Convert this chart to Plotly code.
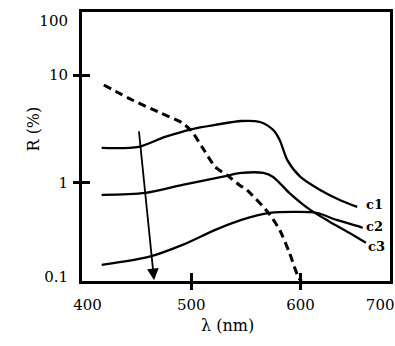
import math
import plotly.graph_objects as go

# ---- data ----
c1_x = [418, 452, 476, 501, 522, 546, 563, 575, 581, 588, 600, 618, 636, 652]
c1_y = [2.10, 2.15, 2.66, 3.15, 3.44, 3.74, 3.66, 3.09, 2.49, 1.62, 1.13, 0.855, 0.690, 0.595]

c2_x = [418, 458, 492, 528, 546, 566, 575, 590, 609, 627, 645, 660]
c2_y = [0.769, 0.802, 0.952, 1.13, 1.23, 1.23, 1.13, 0.80, 0.558, 0.432, 0.341, 0.276]

c3_x = [418, 461, 492, 522, 546, 572, 597, 615, 633, 652, 657]
c3_y = [0.172, 0.204, 0.264, 0.364, 0.451, 0.523, 0.535, 0.523, 0.451, 0.396, 0.380]

dash_x = [420, 446, 470, 492, 501, 510, 522, 535, 544, 551, 570, 581, 590, 598, 601]
dash_y = [8.07, 5.86, 4.53, 3.58, 2.96, 2.14, 1.40, 1.13, 0.952, 0.855, 0.535, 0.364, 0.222, 0.133, 0.122]

x_tickvals = [405, 500, 600, 673]
x_ticktext = ["400", "500", "600", "700"]
y_tickvals = [0.135, 1, 10, 32]
y_ticktext = ["0.1", "1", "10", "100"]
x_marks = [500, 600]
y_marks = [1, 10]

curve_labels = ["c1", "c2", "c3"]
label_x = [668, 668, 670]
label_y = [0.621, 0.388, 0.253]

arrow_x = [452, 466]
arrow_y = [3.09, 0.124]

x_range = [400, 682]
y_range = [math.log10(0.122), math.log10(38.5)]

FONT = "DejaVu Serif"

fig = go.Figure()
for xs, ys in [(c1_x, c1_y), (c2_x, c2_y), (c3_x, c3_y)]:
    fig.add_trace(go.Scatter(x=xs, y=ys, mode="lines",
                             line=dict(color="black", width=2.3, shape="spline", smoothing=0.8),
                             showlegend=False, hoverinfo="skip"))
fig.add_trace(go.Scatter(x=dash_x, y=dash_y, mode="lines",
                         line=dict(color="black", width=3, dash="8px,5px", shape="spline", smoothing=0.6),
                         showlegend=False, hoverinfo="skip"))
# dummy traces to anchor tick-mark axes
fig.add_trace(go.Scatter(x=[None], y=[None], xaxis="x2", yaxis="y2", showlegend=False))
fig.add_trace(go.Scatter(x=[None], y=[None], xaxis="x3", yaxis="y3", showlegend=False))

for lab, lx, ly in zip(curve_labels, label_x, label_y):
    fig.add_annotation(x=lx, y=math.log10(ly), xref="x", yref="y", text="<b>%s</b>" % lab,
                       showarrow=False, font=dict(family=FONT, size=13, color="black"))

fig.add_annotation(x=arrow_x[1], y=math.log10(arrow_y[1]), ax=arrow_x[0], ay=math.log10(arrow_y[0]),
                   xref="x", yref="y", axref="x", ayref="y", text="", showarrow=True,
                   arrowhead=2, arrowsize=1.3, arrowwidth=1.8, arrowcolor="black")

fig.add_annotation(x=21, y=129, xref="paper", yref="paper", text="R (%)", textangle=-90,
                   showarrow=False, font=dict(family=FONT, size=16, color="black"))
fig.add_annotation(x=227, y=337, xref="paper", yref="paper", text="λ (nm)",
                   showarrow=False, font=dict(family=FONT, size=16, color="black"))

# convert paper annotations from pixel positions
W, H = 395, 346
L, R, T, B = 82, 5, 12, 65
pw, ph = W - L - R, H - T - B
for a in fig.layout.annotations:
    if a.xref == "paper":
        a.x = (a.x - L) / pw
        a.y = 1 - (a.y - T) / ph

common_x = dict(range=x_range, showgrid=False, zeroline=False)
common_y = dict(type="log", range=y_range, showgrid=False, zeroline=False)

fig.update_layout(
    width=W, height=H,
    margin=dict(l=L, r=R, t=T, b=B, autoexpand=False),
    paper_bgcolor="white", plot_bgcolor="white",
    font=dict(family=FONT, size=15, color="black"),
    xaxis=dict(**common_x, tickvals=x_tickvals, ticktext=x_ticktext, ticks="outside",
               ticklen=8, tickcolor="rgba(0,0,0,0)", showline=True, linewidth=3,
               linecolor="black", mirror=True, ticklabeloverflow="allow"),
    yaxis=dict(**common_y, tickvals=y_tickvals, ticktext=y_ticktext, ticks="outside",
               ticklen=8, tickcolor="rgba(0,0,0,0)", showline=True, linewidth=3,
               linecolor="black", mirror=True, ticklabeloverflow="allow"),
    xaxis2=dict(**common_x, overlaying="x", tickvals=x_marks, ticks="outside", ticklen=8,
                tickwidth=3, tickcolor="black", showticklabels=False, showline=False),
    yaxis2=dict(**common_y, overlaying="y", tickvals=y_marks, ticks="outside", ticklen=8,
                tickwidth=3, tickcolor="black", showticklabels=False, showline=False),
    xaxis3=dict(**common_x, overlaying="x", tickvals=x_marks, ticks="inside", ticklen=8,
                tickwidth=3, tickcolor="black", showticklabels=False, showline=False),
    yaxis3=dict(**common_y, overlaying="y", tickvals=y_marks, ticks="inside", ticklen=8,
                tickwidth=3, tickcolor="black", showticklabels=False, showline=False),
)

fig.write_html("out.html", config={"displayModeBar": False},
               post_script="document.body.style.margin='0';document.body.style.overflow='hidden';")
